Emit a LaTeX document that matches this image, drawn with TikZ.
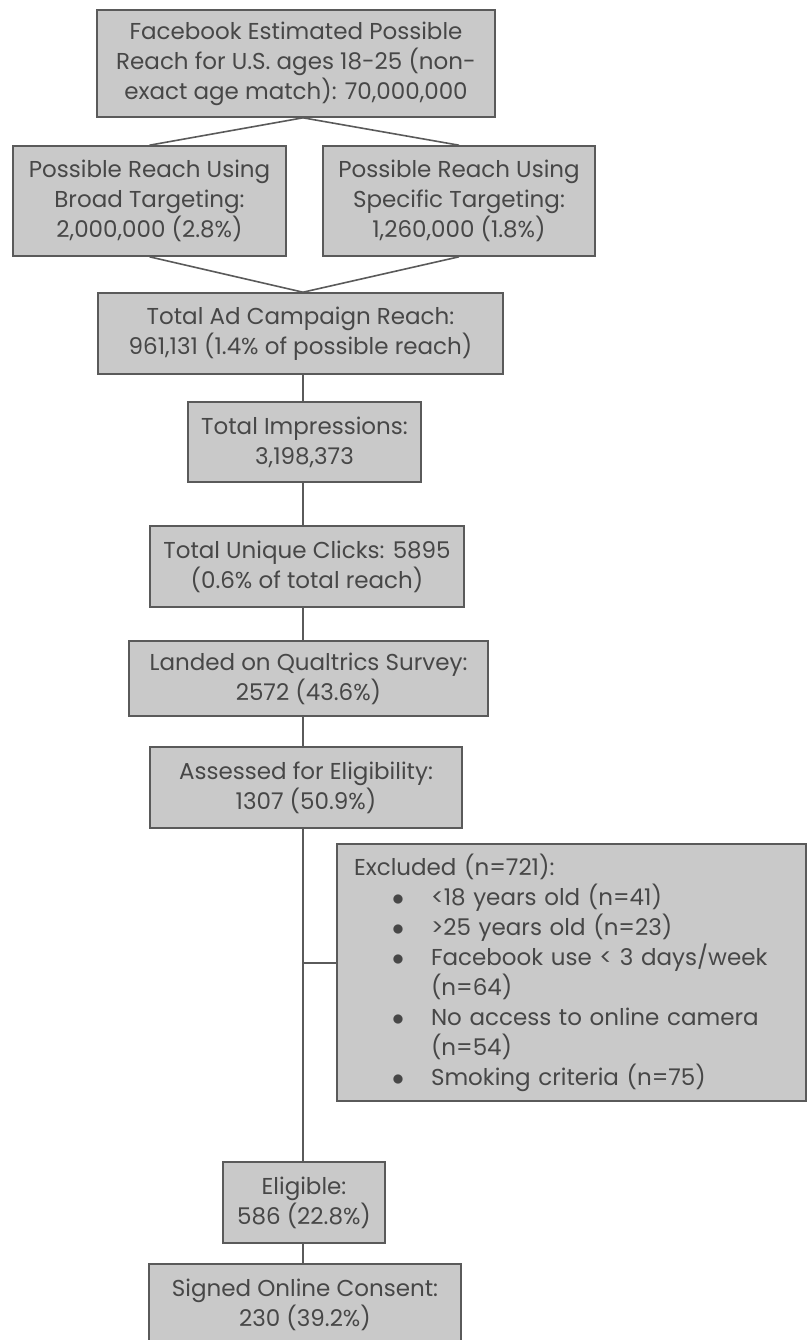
\documentclass[tikz,border=0pt]{standalone}
\usepackage{fontspec}
\setmainfont{Poppins}
\definecolor{boxgray}{HTML}{C9C9C9}
\definecolor{edgegray}{HTML}{5A5A5A}
\definecolor{textgray}{HTML}{474747}
\newcommand{\bul}{\makebox[38.5pt][l]{\hspace*{19pt}$\bullet$}}
\newcommand{\cont}{\hspace*{38.5pt}}
\tikzset{
  flowbox/.style={draw=edgegray, fill=boxgray, line width=0.8pt, text=textgray,
    align=center, inner sep=0pt, font=\fontsize{11.5}{15}\selectfont},
  link/.style={draw=edgegray, line width=0.8pt}
}
\begin{document}
\begin{tikzpicture}[x=0.5pt,y=-0.5pt]
    \useasboundingbox (0,0) rectangle (808,1340);
    \coordinate (spine) at (303,0);
    % funnel boxes
    \node[flowbox, minimum width=199pt, minimum height=53.5pt] (top) at (296,63.5)
        {Facebook Estimated Possible\\Reach for U.S. ages 18-25 (non-\\exact age match): 70,000,000};
    \node[flowbox, minimum width=136.5pt, minimum height=55pt] (broad) at (149.5,201)
        {Possible Reach Using\\Broad Targeting:\\2,000,000 (2.8\%)};
    \node[flowbox, minimum width=136pt, minimum height=55pt] (specific) at (459,201)
        {Possible Reach Using\\Specific Targeting:\\1,260,000 (1.8\%)};
    \node[flowbox, minimum width=202.5pt, minimum height=40.5pt] (reach) at (300.5,333.5)
        {Total Ad Campaign Reach:\\961,131 (1.4\% of possible reach)};
    \node[flowbox, minimum width=116.5pt, minimum height=40pt] (impr) at (304.5,442)
        {Total Impressions:\\3,198,373};
    \node[flowbox, minimum width=157pt, minimum height=40.5pt] (clicks) at (307,566.5)
        {Total Unique Clicks: 5895\\(0.6\% of total reach)};
    \node[flowbox, minimum width=179.5pt, minimum height=37.5pt] (qualt) at (308.5,678.5)
        {Landed on Qualtrics Survey:\\2572 (43.6\%)};
    \node[flowbox, minimum width=156pt, minimum height=40.5pt] (assessed) at (306,787.5)
        {Assessed for Eligibility:\\1307 (50.9\%)};
    \node[flowbox, align=left, text width=217.5pt, inner xsep=8.5pt, minimum height=128.5pt] (excl) at (571.5,972.5)
        {Excluded (n=721):\\
         \bul<18 years old (n=41)\\
         \bul>25 years old (n=23)\\
         \bul Facebook use < 3 days/week\\
         \cont(n=64)\\
         \bul No access to online camera\\
         \cont(n=54)\\
         \bul Smoking criteria (n=75)};
    \node[flowbox, minimum width=81pt, minimum height=40.5pt] (eligible) at (304,1202.5)
        {Eligible:\\586 (22.8\%)};
    \node[flowbox, minimum width=156pt, minimum height=40.5pt] (consent) at (305,1304.5)
        {Signed Online Consent:\\230 (39.2\%)};
    % connectors
    \draw[link] (top.south -| spine) -- (broad.north);
    \draw[link] (top.south -| spine) -- (specific.north);
    \draw[link] (broad.south) -- (reach.north -| spine);
    \draw[link] (specific.south) -- (reach.north -| spine);
    \foreach \a/\b in {reach/impr, impr/clicks, clicks/qualt, qualt/assessed, assessed/eligible, eligible/consent}
        \draw[link] (\a.south -| spine) -- (\b.north -| spine);
    \draw[link] ([yshift=4.75pt]spine |- excl.west) -- ([yshift=4.75pt]excl.west);
\end{tikzpicture}
\end{document}
